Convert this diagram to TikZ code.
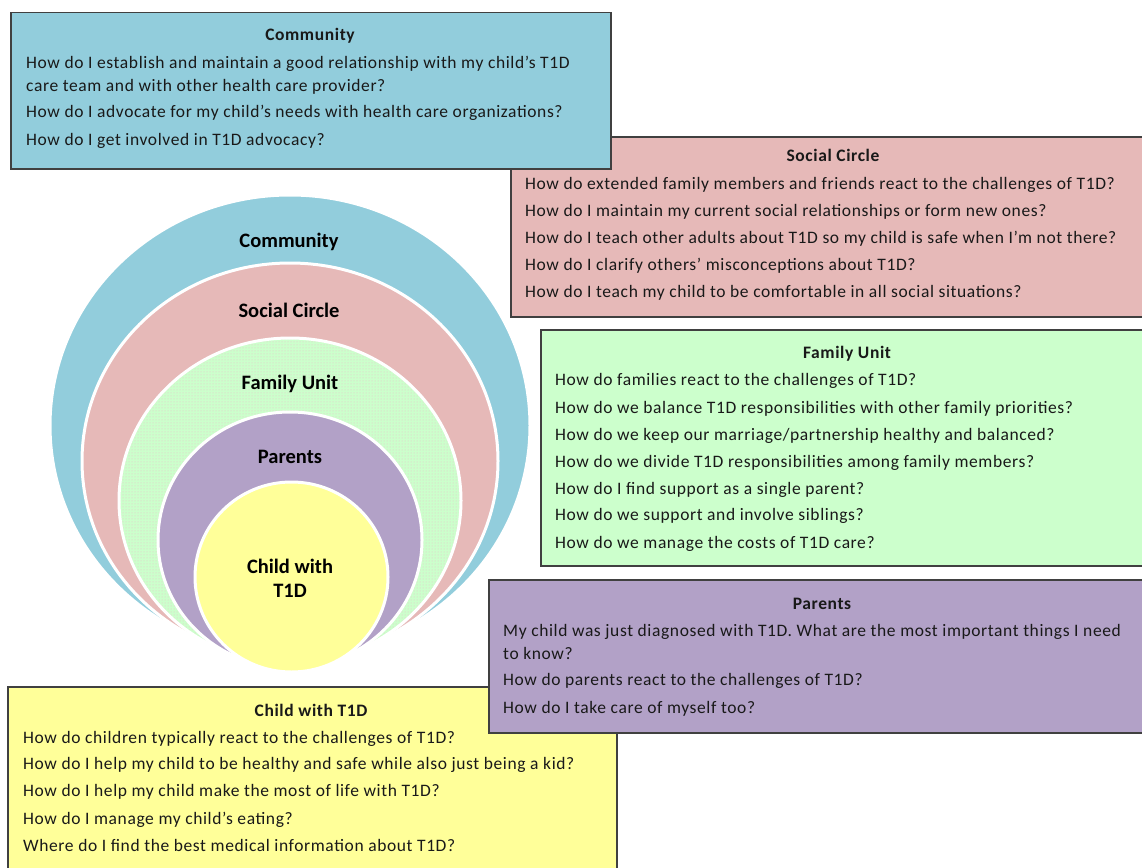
\documentclass[tikz,border=0pt]{standalone}
\usepackage{fontspec}
\setmainfont{Carlito}
\newfontfamily\qfont[LetterSpace=3.5]{Carlito}
\usetikzlibrary{patterns}
\definecolor{cblue}{RGB}{146,205,220}
\definecolor{spink}{RGB}{230,185,184}
\definecolor{fgreen}{RGB}{204,255,204}
\definecolor{dotpink}{RGB}{236,188,200}
\definecolor{ppurple}{RGB}{178,161,199}
\definecolor{cyellow}{RGB}{255,255,153}
\definecolor{bordergray}{RGB}{64,64,64}
\definecolor{txt}{RGB}{25,25,25}
\begin{document}
\begin{tikzpicture}[x=1pt,y=-1pt,
  qbox/.style={draw=bordergray, line width=1.5pt, rectangle, inner sep=0pt, anchor=north west},
  qtitle/.style={anchor=base, inner sep=0pt, text=txt, font=\qfont\fontsize{17.5}{20}\selectfont\bfseries},
  qline/.style={anchor=base west, inner sep=0pt, text=txt, font=\qfont\fontsize{17.5}{20}\selectfont},
  ringlabel/.style={anchor=base, inner sep=0pt, text=black, font=\fontsize{20.5}{24}\selectfont\bfseries},
  ringedge/.style={draw=white, line width=3pt}]
\useasboundingbox (0,0) rectangle (1142,867);
\fill[white] (0,0) rectangle (1142,867);
% nested rings
\fill[cblue, ringedge] (290,425.6) ellipse [x radius=240pt, y radius=230.6pt];
\fill[spink, ringedge] (290,461.1) ellipse [x radius=208pt, y radius=198.1pt];
\fill[fgreen] (290,500.6) ellipse [x radius=171pt, y radius=162.6pt];
\fill[pattern=dots, pattern color=dotpink] (290,500.6) ellipse [x radius=171pt, y radius=162.6pt];
\draw[ringedge] (290,500.6) ellipse [x radius=171pt, y radius=162.6pt];
\fill[ppurple, ringedge] (290,540) ellipse [x radius=132pt, y radius=128pt];
\fill[cyellow, ringedge] (291.5,577) ellipse [x radius=96.5pt, y radius=95pt];
\node[ringlabel] (lcom) at (289,247) {Community};
\node[ringlabel] (lsoc) at (289,317) {Social Circle};
\node[ringlabel] (lfam) at (290,389) {Family Unit};
\node[ringlabel] (lpar) at (290,463) {Parents};
\node[ringlabel] (lch1) at (290,573) {Child with};
\node[ringlabel] (lch2) at (290,597) {T1D};
% Child box
\node[qbox, fill=cyellow, minimum width=609pt, minimum height=200pt] (chbox) at (7,686) {};
\node[qtitle] (cht) at (311,716) {Child with T1D};
\node[qline] (ch1) at (23,743) {How do children typically react to the challenges of T1D?};
\node[qline] (ch2) at (23,769) {How do I help my child to be healthy and safe while also just being a kid?};
\node[qline] (ch3) at (23,796) {How do I help my child make the most of life with T1D?};
\node[qline] (ch4) at (23,824) {How do I manage my child’s eating?};
\node[qline] (ch5) at (23,851) {Where do I find the best medical information about T1D?};
% Parents box
\node[qbox, fill=ppurple, minimum width=670pt, minimum height=153pt] (pbox) at (488,579) {};
\node[qtitle] (pt) at (822,609) {Parents};
\node[qline] (p1) at (503,636) {My child was just diagnosed with T1D. What are the most important things I need};
\node[qline] (p1b) at (503,659) {to know?};
\node[qline] (p2) at (503,685) {How do parents react to the challenges of T1D?};
\node[qline] (p3) at (503,713) {How do I take care of myself too?};
% Family box
\node[qbox, fill=fgreen, minimum width=620pt, minimum height=236pt] (fbox) at (540,329) {};
\node[qtitle] (ft) at (847,358) {Family Unit};
\node[qline] (f1) at (555,385) {How do families react to the challenges of T1D?};
\node[qline] (f2) at (555,413) {How do we balance T1D responsibilities with other family priorities?};
\node[qline] (f3) at (555,440) {How do we keep our marriage/partnership healthy and balanced?};
\node[qline] (f4) at (555,467) {How do we divide T1D responsibilities among family members?};
\node[qline] (f5) at (555,494) {How do I find support as a single parent?};
\node[qline] (f6) at (555,520) {How do we support and involve siblings?};
\node[qline] (f7) at (555,548) {How do we manage the costs of T1D care?};
% Social box
\node[qbox, fill=spink, minimum width=650pt, minimum height=180pt] (sbox) at (510,136) {};
\node[qtitle] (st) at (833,161) {Social Circle};
\node[qline] (s1) at (525,189) {How do extended family members and friends react to the challenges of T1D?};
\node[qline] (s2) at (525,216) {How do I maintain my current social relationships or form new ones?};
\node[qline] (s3) at (525,243) {How do I teach other adults about T1D so my child is safe when I’m not there?};
\node[qline] (s4) at (525,270) {How do I clarify others’ misconceptions about T1D?};
\node[qline] (s5) at (525,297) {How do I teach my child to be comfortable in all social situations?};
% Community box
\node[qbox, fill=cblue, minimum width=600pt, minimum height=156pt] (cbox) at (10,12) {};
\node[qtitle] (ct) at (310,41) {Community};
\node[qline] (c1) at (26,68) {How do I establish and maintain a good relationship with my child’s T1D};
\node[qline] (c1b) at (26,91) {care team and with other health care provider?};
\node[qline] (c2) at (26,117) {How do I advocate for my child’s needs with health care organizations?};
\node[qline] (c3) at (26,145) {How do I get involved in T1D advocacy?};
\end{tikzpicture}
\end{document}
